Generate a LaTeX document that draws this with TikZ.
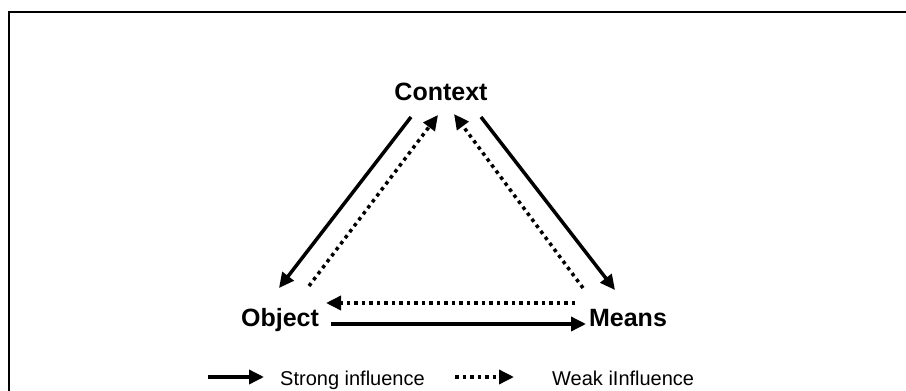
\documentclass[tikz,border=0pt]{standalone}
\usepackage{fontspec}
\setmainfont{Liberation Sans}
\usepackage{tikz}
\usetikzlibrary{arrows.meta,positioning,calc}
\tikzset{
  tri label/.style={font=\bfseries\fontsize{25}{30}\selectfont,inner sep=0pt,anchor=base},
  key label/.style={font=\fontsize{20}{24}\selectfont,inner sep=0pt,anchor=base west},
  strong arrow/.style={-{Triangle[length=15pt,width=14pt]},line width=3.5pt},
  weak arrow/.style={-{Triangle[length=15pt,width=14pt]},line width=3.5pt,dash pattern=on 3.5pt off 4pt},
  frame line/.style={line width=1.2pt}
}
\begin{document}
\begin{tikzpicture}[x=1pt,y=-1pt]
  \useasboundingbox (0,0) rectangle (906,391);
  \draw[frame line] (9,391) -- (9,12) -- (906,12);
  % corner labels
  \node[tri label] (ctx) at (441,100) {Context};
  \node[tri label] (obj) at (280,326) {Object};
  \node[tri label] (mns) at (628,326) {Means};
  % arrow ends
  \coordinate (ctxL) at (411,117); \coordinate (objT) at (279,288);
  \coordinate (objW) at (309,286); \coordinate (ctxW) at (438,115);
  \coordinate (ctxR) at (481,117); \coordinate (mnsT) at (615,290);
  \coordinate (mnsW) at (583,288); \coordinate (ctxV) at (454,114);
  \coordinate (mnsD) at (575,303); \coordinate (objD) at (326,303);
  \coordinate (objS) at (331,324); \coordinate (mnsS) at (586,324);
  \draw[strong arrow] (ctxL) -- (objT);
  \draw[weak arrow] (objW) -- (ctxW);
  \draw[strong arrow] (ctxR) -- (mnsT);
  \draw[weak arrow] (mnsW) -- (ctxV);
  \draw[weak arrow] (mnsD) -- (objD);
  \draw[strong arrow] (objS) -- (mnsS);
  % key
  \coordinate (keyA) at (208,377); \coordinate (keyB) at (264,377);
  \coordinate (keyC) at (455,377); \coordinate (keyD) at (514,377);
  \draw[strong arrow] (keyA) -- (keyB);
  \draw[weak arrow] (keyC) -- (keyD);
  \node[key label] (strong) at (280,385) {Strong influence};
  \node[key label] (weak) at (552,385) {Weak iInfluence};
\end{tikzpicture}
\end{document}
